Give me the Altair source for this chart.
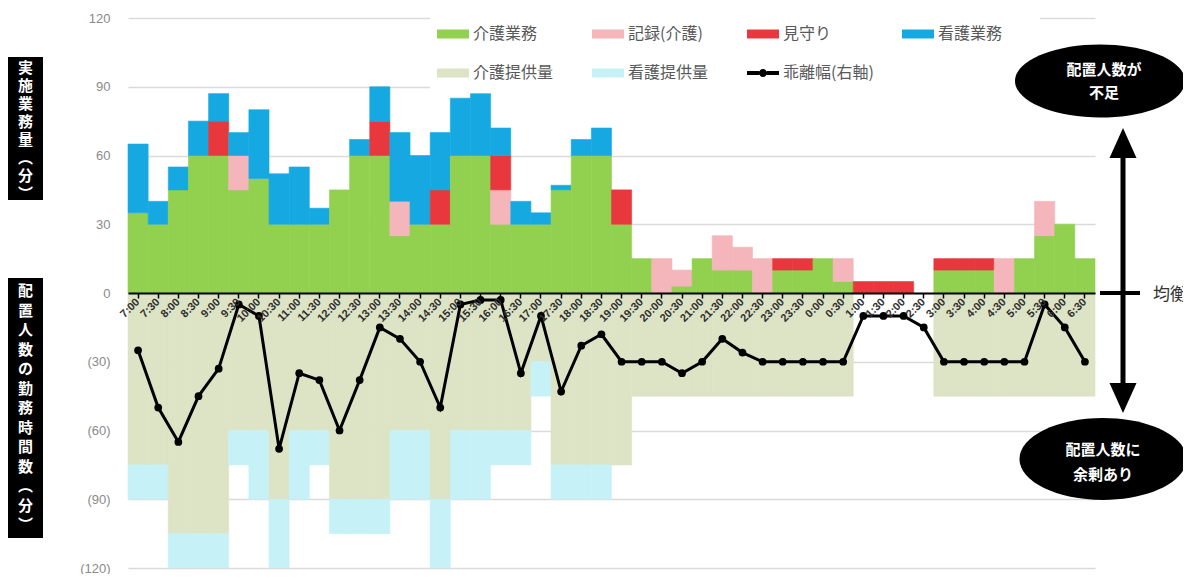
import altair as alt
import pandas as pd

times = ["7:00", "7:30", "8:00", "8:30", "9:00", "9:30", "10:00", "10:30", "11:00", "11:30",
         "12:00", "12:30", "13:00", "13:30", "14:00", "14:30", "15:00", "15:30", "16:00", "16:30",
         "17:00", "17:30", "18:00", "18:30", "19:00", "19:30", "20:00", "20:30", "21:00", "21:30",
         "22:00", "22:30", "23:00", "23:30", "0:00", "0:30", "1:00", "1:30", "2:00", "2:30",
         "3:00", "3:30", "4:00", "4:30", "5:00", "5:30", "6:00", "6:30"]

# 実施業務量 (positive stack)
care_work = [35, 30, 45, 60, 60, 45, 50, 30, 30, 30, 45, 60, 60, 25, 30, 30, 60, 60, 30, 30,
             30, 45, 60, 60, 30, 15, 0, 3, 15, 10, 10, 0, 10, 10, 15, 5, 0, 0, 0, 0,
             10, 10, 10, 0, 15, 25, 30, 15]
record_care = [0, 0, 0, 0, 0, 15, 0, 0, 0, 0, 0, 0, 0, 15, 0, 0, 0, 0, 15, 0,
               0, 0, 0, 0, 0, 0, 15, 7, 0, 15, 10, 15, 0, 0, 0, 10, 0, 0, 0, 0,
               0, 0, 0, 15, 0, 15, 0, 0]
watching = [0, 0, 0, 0, 15, 0, 0, 0, 0, 0, 0, 0, 15, 0, 0, 15, 0, 0, 15, 0,
            0, 0, 0, 0, 15, 0, 0, 0, 0, 0, 0, 0, 5, 5, 0, 0, 5, 5, 5, 0,
            5, 5, 5, 0, 0, 0, 0, 0]
nursing_work = [30, 10, 10, 15, 12, 10, 30, 22, 25, 7, 0, 7, 15, 30, 30, 25, 25, 27, 12, 10,
                5, 2, 7, 12, 0, 0, 0, 0, 0, 0, 0, 0, 0, 0, 0, 0, 0, 0, 0, 0,
                0, 0, 0, 0, 0, 0, 0, 0]

# 配置人数の勤務時間数 (negative stack)
care_supply = [75, 75, 105, 105, 105, 60, 60, 90, 60, 60, 90, 90, 90, 60, 60, 90, 60, 60, 60, 60,
               30, 75, 75, 75, 75, 45, 45, 45, 45, 45, 45, 45, 45, 45, 45, 45, 0, 0, 0, 0,
               45, 45, 45, 45, 45, 45, 45, 45]
nursing_supply = [15, 15, 15, 15, 15, 15, 30, 30, 30, 15, 15, 15, 15, 30, 30, 30, 30, 30, 15, 15,
                  15, 15, 15, 15, 0, 0, 0, 0, 0, 0, 0, 0, 0, 0, 0, 0, 0, 0, 0, 0,
                  0, 0, 0, 0, 0, 0, 0, 0]

# 乖離幅
deviation = [-25, -50, -65, -45, -33, -5, -10, -68, -35, -38, -60, -38, -15, -20, -30, -50, -5, -3, -3, -35,
             -10, -43, -23, -18, -30, -30, -30, -35, -30, -20, -26, -30, -30, -30, -30, -30, -10, -10, -10, -15,
             -30, -30, -30, -30, -30, -5, -15, -30]

series_names = ["介護業務", "記録(介護)", "見守り", "看護業務", "介護提供量", "看護提供量", "乖離幅(右軸)"]
series_colors = ["#92D050", "#F4B6BA", "#E8383D", "#16A9E1", "#DDE3C5", "#C6F2F7", "#000000"]

pos_rows = []
for i, t in enumerate(times):
    for k, (name, vals) in enumerate(zip(series_names[:4], [care_work, record_care, watching, nursing_work])):
        if vals[i] != 0:
            pos_rows.append({"time": t, "series": name, "value": vals[i], "ord": k})
pos_df = pd.DataFrame(pos_rows)

neg_rows = []
for i, t in enumerate(times):
    for k, (name, vals) in enumerate(zip(series_names[4:6], [care_supply, nursing_supply])):
        if vals[i] != 0:
            neg_rows.append({"time": t, "series": name, "value": -vals[i], "ord": k})
neg_df = pd.DataFrame(neg_rows)

line_df = pd.DataFrame({"time": times, "dev": deviation})
legend_df = pd.DataFrame({"series": series_names, "time": [times[0]] * len(series_names), "v": [0] * len(series_names)})

W, H = 967, 550
JP = "Noto Sans CJK JP"

xscale = alt.Scale(domain=times, paddingInner=0, paddingOuter=0)
xaxis = alt.Axis(title=None, orient="bottom", offset=-H / 2, domainColor="black", domainWidth=2,
                 tickColor="black", tickSize=5, tickWidth=1.5, labelAngle=-45, labelAlign="right",
                 labelBaseline="middle", labelPadding=2, labelFont="Liberation Sans",
                 labelFontSize=11, labelFontWeight="bold", labelColor="#2f2f2f", labelOverlap=False,
                 grid=False, zindex=2)
yscale = alt.Scale(domain=[-120, 120], nice=False)
yaxis = alt.Axis(title=None, values=[-120, -90, -60, -30, 0, 30, 60, 90, 120],
                 labelExpr="datum.value < 0 ? '(' + (-datum.value) + ')' : '' + datum.value",
                 domain=False, ticks=False, grid=True, gridColor="#dadada", gridWidth=1.5,
                 labelPadding=18, labelFont="Liberation Sans", labelFontSize=13, labelColor="#8a8a8a")

rect_path = "M-1.6,-0.45H1.6V0.45H-1.6Z"
line_path = ("M-1.6,-0.2H-0.38V0.2H-1.6Z M0.38,-0.2H1.6V0.2H0.38Z "
             "M-0.4,0A0.4,0.4,0,1,1,0.4,0A0.4,0.4,0,1,1,-0.4,0Z")
legend = alt.Legend(
    title=None, orient="none", legendX=307, legendY=-2, columns=4, direction="horizontal",
    gridAlign="all", columnPadding=28, rowPadding=21, padding=8,
    symbolSize=400, symbolStrokeWidth=0, symbolOpacity=1, labelOffset=10,
    labelFont=JP, labelFontSize=16, labelColor="#595959", labelLimit=200,
)
cscale = alt.Scale(domain=series_names, range=series_colors)
shscale = alt.Scale(domain=series_names, range=[rect_path] * 6 + [line_path])
sscale = alt.Scale(domain=series_names, range=series_colors)

dummy = pd.DataFrame({"a": [0]})
base = alt.Chart(dummy)

# white backing behind the legend (hides the gridlines there)
legend_bg = base.mark_rect(color="white").encode(
    x=alt.value(302), x2=alt.value(912), y=alt.value(-10), y2=alt.value(72))

pos_bars = alt.Chart(pos_df).mark_bar(strokeWidth=0.6).encode(
    x=alt.X("time:N", sort=times, scale=xscale, axis=xaxis),
    y=alt.Y("value:Q", stack="zero", scale=yscale, axis=yaxis),
    color=alt.Color("series:N", scale=cscale, legend=legend),
    stroke=alt.Stroke("series:N", scale=sscale, legend=None),
    order=alt.Order("ord:Q", sort="ascending"),
)
neg_bars = alt.Chart(neg_df).mark_bar(strokeWidth=0.6).encode(
    x=alt.X("time:N", sort=times, scale=xscale, axis=xaxis),
    y=alt.Y("value:Q", stack="zero", scale=yscale, axis=yaxis),
    color=alt.Color("series:N", scale=cscale, legend=legend),
    stroke=alt.Stroke("series:N", scale=sscale, legend=None),
    order=alt.Order("ord:Q", sort="ascending"),
)
dev_line = alt.Chart(line_df).mark_line(
    color="black", strokeWidth=3,
    point=alt.OverlayMarkDef(filled=True, color="black", size=60, opacity=1),
).encode(
    x=alt.X("time:N", sort=times, scale=xscale, axis=xaxis),
    y=alt.Y("dev:Q", scale=yscale, axis=yaxis),
)
legend_pts = alt.Chart(legend_df).mark_point(filled=True, size=0, strokeWidth=0).encode(
    x=alt.X("time:N", sort=times, scale=xscale, axis=xaxis),
    y=alt.Y("v:Q", scale=yscale, axis=yaxis),
    color=alt.Color("series:N", scale=cscale, legend=legend),
    shape=alt.Shape("series:N", scale=shscale, legend=legend),
)

box1 = base.mark_rect(color="black").encode(x=alt.value(-120), x2=alt.value(-85), y=alt.value(39), y2=alt.value(182))
box2 = base.mark_rect(color="black").encode(x=alt.value(-120), x2=alt.value(-85), y=alt.value(260), y2=alt.value(520))
box1_text = base.mark_text(color="white", font=JP, fontSize=15, fontWeight="bold", lineHeight=18,
                           align="center", baseline="middle").encode(
    x=alt.value(-102.5), y=alt.value(50), text=alt.value(["実", "施", "業", "務", "量", "︵", "分", "︶"]))
box2_text = base.mark_text(color="white", font=JP, fontSize=15, fontWeight="bold", lineHeight=19.5,
                           align="center", baseline="middle").encode(
    x=alt.value(-102.5), y=alt.value(273),
    text=alt.value(["配", "置", "人", "数", "の", "勤", "務", "時", "間", "数", "︵", "分", "︶"]))

ell_up = base.mark_point(shape="M-1,0A1,0.43,0,1,1,1,0A1,0.43,0,1,1,-1,0Z", filled=True, color="black",
                         opacity=1, size=28900).encode(x=alt.value(972), y=alt.value(63))
ell_dn = base.mark_point(shape="M-1,0A1,0.49,0,1,1,1,0A1,0.49,0,1,1,-1,0Z", filled=True, color="black",
                         opacity=1, size=27900).encode(x=alt.value(975), y=alt.value(441))
ell_up_text = base.mark_text(color="white", font=JP, fontSize=15, fontWeight="bold", lineHeight=23,
                             align="center", baseline="middle").encode(
    x=alt.value(976), y=alt.value(52), text=alt.value(["配置人数が", "不足"]))
ell_dn_text = base.mark_text(color="white", font=JP, fontSize=15, fontWeight="bold", lineHeight=25,
                             align="center", baseline="middle").encode(
    x=alt.value(975), y=alt.value(432), text=alt.value(["配置人数に", "余剰あり"]))

shaft = base.mark_rule(color="black", strokeWidth=5).encode(x=alt.value(995), y=alt.value(132), y2=alt.value(377))
head_up = base.mark_point(shape="M0,-1L0.9,1L-0.9,1Z", filled=True, color="black", opacity=1, size=900).encode(
    x=alt.value(995), y=alt.value(125))
head_dn = base.mark_point(shape="M0,1L0.9,-1L-0.9,-1Z", filled=True, color="black", opacity=1, size=900).encode(
    x=alt.value(995), y=alt.value(380))
balance_tick = base.mark_rule(color="black", strokeWidth=4).encode(x=alt.value(972), x2=alt.value(1012), y=alt.value(275))
balance_text = base.mark_text(color="#333333", font=JP, fontSize=17, align="left", baseline="middle").encode(
    x=alt.value(1025), y=alt.value(277), text=alt.value("均衡"))

chart = alt.layer(
    legend_bg, neg_bars, pos_bars, dev_line, legend_pts,
    box1, box2, box1_text, box2_text,
    shaft, head_up, head_dn, balance_tick, balance_text,
    ell_up, ell_dn, ell_up_text, ell_dn_text,
).properties(
    width=W, height=H,
    padding={"left": 120, "top": 10, "right": 88, "bottom": 6},
    autosize=alt.AutoSizeParams(type="none"),
    background="white",
).configure_view(stroke=None)

chart.save("out.html", embed_options={"renderer": "svg", "actions": False})
